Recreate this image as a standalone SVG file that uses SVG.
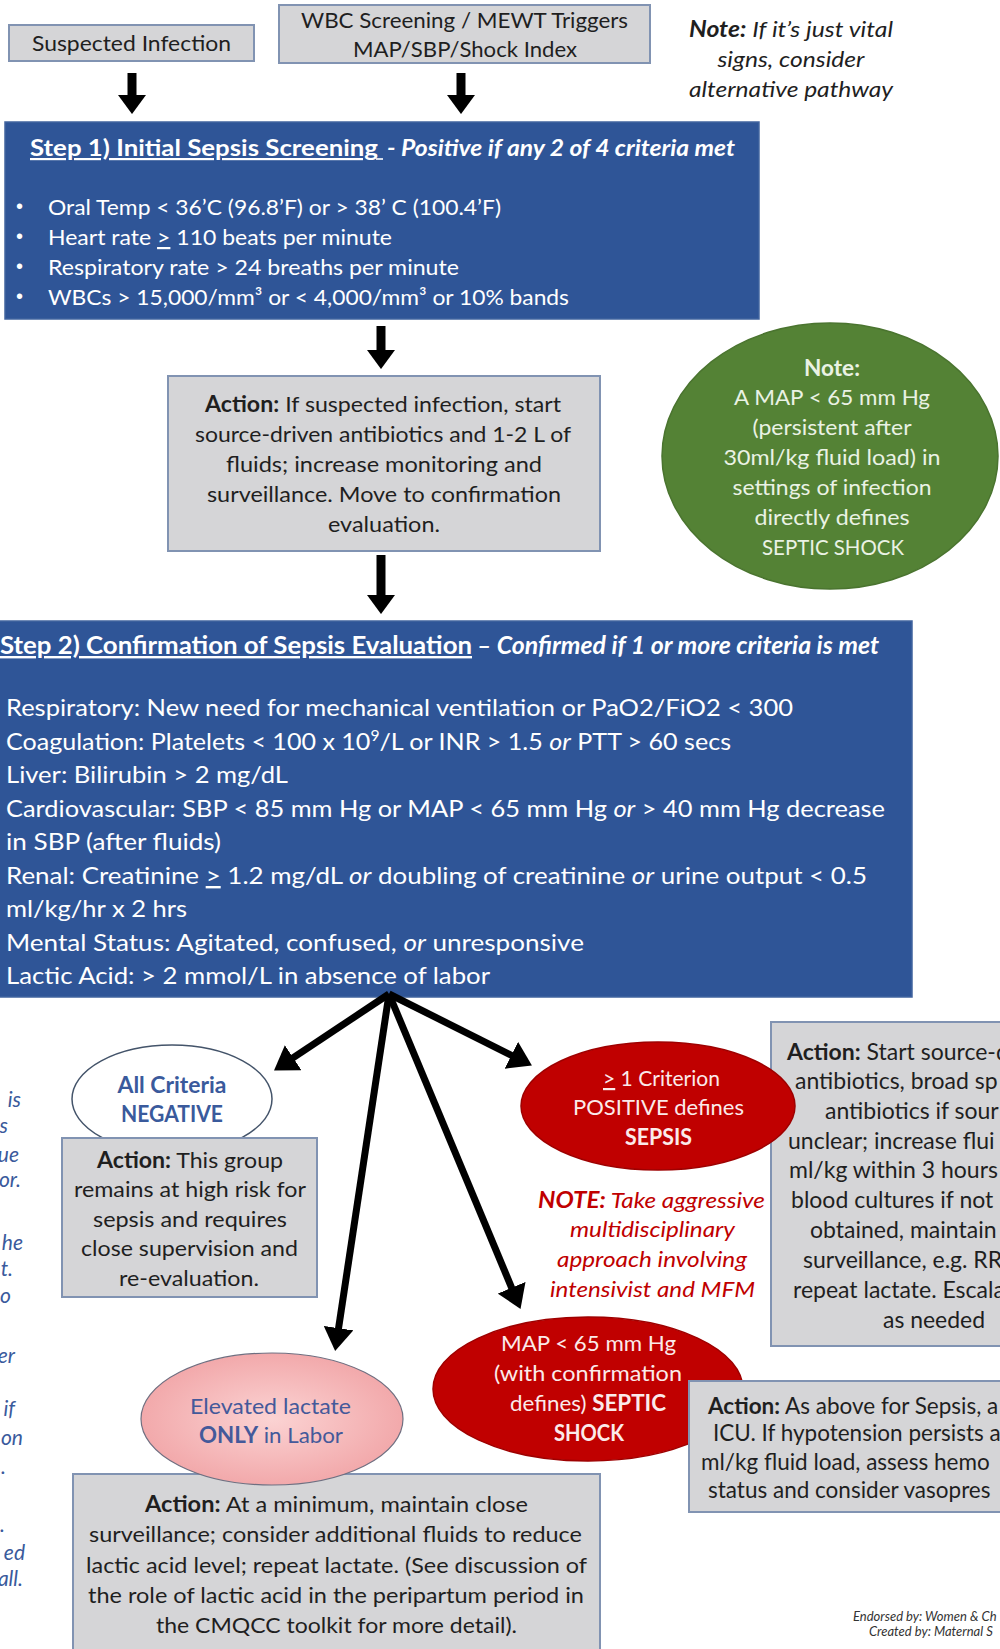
<svg xmlns="http://www.w3.org/2000/svg" width="1000" height="1649" viewBox="0 0 1000 1649">
<defs>
<style>
.box{fill:#d5d5d7;stroke:#8193b2;stroke-width:2}
.blue{fill:#2f5597;stroke:#41649f;stroke-width:1.5}
.t{font-family:Lato,"Liberation Sans",sans-serif;font-size:22px;fill:#1f1f1f}
.w{fill:#ffffff}
.c{text-anchor:middle}
.b{font-weight:bold}
.i{font-style:italic}
.u{text-decoration:underline}
.bul{font-family:"Liberation Sans",sans-serif;font-size:20px;fill:#ffffff}
.shaft{stroke:#000;stroke-width:9;fill:none;marker-end:url(#ah)}
.fan{stroke:#000;stroke-width:7;fill:none;marker-end:url(#ah2)}
.red{fill:#c00000;stroke:#9e0000;stroke-width:1.5}
.frag{font-family:Lato,"Liberation Sans",sans-serif;font-size:21px;font-style:italic;fill:#3a5a9c;text-anchor:end}
.foot{font-family:Lato,"Liberation Sans",sans-serif;font-size:13px;font-style:italic;fill:#333}
</style>
<marker id="ah" viewBox="0 0 10 10" refX="0.5" refY="5" markerUnits="userSpaceOnUse" markerWidth="19" markerHeight="28" preserveAspectRatio="none" orient="auto"><path d="M0,0 L10,5 L0,10 Z" fill="#000"/></marker>
<marker id="ah2" viewBox="0 0 10 10" refX="0.5" refY="5" markerUnits="userSpaceOnUse" markerWidth="23" markerHeight="30" preserveAspectRatio="none" orient="auto"><path d="M0,0 L10,5 L0,10 Z" fill="#000"/></marker>
<radialGradient id="pink" cx="0.5" cy="0.5" r="0.5"><stop offset="0" stop-color="#fbd3d3"/><stop offset="1" stop-color="#f2a9ab"/></radialGradient>
</defs>
<rect width="1000" height="1649" fill="#fff"/>

<g id="suspected-infection">
<rect class="box" x="9" y="25" width="245" height="36"/>
<text class="t c" x="131.5" y="51" textLength="199" lengthAdjust="spacingAndGlyphs">Suspected Infection</text>
</g>
<g id="wbc-screening">
<rect class="box" x="279" y="5" width="371" height="58"/>
<text class="t c" x="464.5" y="28" textLength="327" lengthAdjust="spacingAndGlyphs">WBC Screening / MEWT Triggers</text>
<text class="t c" x="465" y="57" textLength="224" lengthAdjust="spacingAndGlyphs">MAP/SBP/Shock Index</text>
</g>
<g id="note-vitals">
<text class="t c i" x="791" y="37" textLength="204" lengthAdjust="spacingAndGlyphs"><tspan class="b">Note:</tspan> If it’s just vital</text>
<text class="t c i" x="791" y="67" textLength="147" lengthAdjust="spacingAndGlyphs">signs, consider</text>
<text class="t c i" x="791" y="97" textLength="204" lengthAdjust="spacingAndGlyphs">alternative pathway</text>
</g>

<g id="step1">
<rect class="blue" x="5" y="122" width="754" height="197"/>
<text class="t w b u" x="30" y="156" textLength="348" lengthAdjust="spacingAndGlyphs">Step 1) Initial Sepsis Screening</text>
<line x1="376" y1="159" x2="383" y2="159" stroke="#fff" stroke-width="1.6"/>
<text class="t w b i" x="387" y="156" textLength="348" lengthAdjust="spacingAndGlyphs">- Positive if any 2 of 4 criteria met</text>
<text class="bul" x="16" y="213">•</text>
<text class="bul" x="16" y="243">•</text>
<text class="bul" x="16" y="273">•</text>
<text class="bul" x="16" y="303">•</text>
<text class="t w" x="48" y="215" textLength="453" lengthAdjust="spacingAndGlyphs">Oral Temp &lt; 36’C (96.8’F) or &gt; 38’ C (100.4’F)</text>
<text class="t w" x="48" y="245" textLength="344" lengthAdjust="spacingAndGlyphs">Heart rate <tspan class="u">&gt;</tspan> 110 beats per minute</text>
<text class="t w" x="48" y="275" textLength="411" lengthAdjust="spacingAndGlyphs">Respiratory rate &gt; 24 breaths per minute</text>
<text class="t w" x="48" y="305" textLength="521" lengthAdjust="spacingAndGlyphs">WBCs &gt; 15,000/mm³ or &lt; 4,000/mm³ or 10% bands</text>
</g>

<g id="action1">
<rect class="box" x="168" y="376" width="432" height="175"/>
<text class="t c" x="383" y="412" textLength="356" lengthAdjust="spacingAndGlyphs"><tspan class="b">Action:</tspan> If suspected infection, start</text>
<text class="t c" x="383" y="442" textLength="376" lengthAdjust="spacingAndGlyphs">source-driven antibiotics and 1-2 L of</text>
<text class="t c" x="384" y="472" textLength="316" lengthAdjust="spacingAndGlyphs">fluids; increase monitoring and</text>
<text class="t c" x="384" y="502" textLength="354" lengthAdjust="spacingAndGlyphs">surveillance. Move to confirmation</text>
<text class="t c" x="384" y="532" textLength="112" lengthAdjust="spacingAndGlyphs">evaluation.</text>
</g>

<g id="note-map">
<ellipse cx="830" cy="456" rx="168" ry="133" fill="#548235" stroke="#4a742f" stroke-width="1.5"/>
<text class="t c b" x="832" y="376" style="fill:#eaf2e4" textLength="56" lengthAdjust="spacingAndGlyphs">Note:</text>
<text class="t c" x="832" y="405" style="fill:#eaf2e4" textLength="196" lengthAdjust="spacingAndGlyphs">A MAP &lt; 65 mm Hg</text>
<text class="t c" x="832" y="435" style="fill:#eaf2e4" textLength="159" lengthAdjust="spacingAndGlyphs">(persistent after</text>
<text class="t c" x="832" y="465" style="fill:#eaf2e4" textLength="217" lengthAdjust="spacingAndGlyphs">30ml/kg fluid load) in</text>
<text class="t c" x="832" y="495" style="fill:#eaf2e4" textLength="199" lengthAdjust="spacingAndGlyphs">settings of infection</text>
<text class="t c" x="832" y="525" style="fill:#eaf2e4" textLength="155" lengthAdjust="spacingAndGlyphs">directly defines</text>
<text class="t c" x="833" y="555" style="fill:#eaf2e4" textLength="142" lengthAdjust="spacingAndGlyphs">SEPTIC SHOCK</text>
</g>

<g id="step2">
<rect class="blue" x="-2" y="621" width="914" height="376"/>
<text class="t w b u" x="0" y="654" style="font-size:24px" textLength="472" lengthAdjust="spacingAndGlyphs">Step 2) Confirmation of Sepsis Evaluation</text>
<text class="t w b i" x="477" y="654" style="font-size:24px" textLength="402" lengthAdjust="spacingAndGlyphs">– Confirmed if 1 or more criteria is met</text>
<text class="t w" x="6" y="716" style="font-size:24px" textLength="787" lengthAdjust="spacingAndGlyphs">Respiratory: New need for mechanical ventilation or PaO2/FiO2 &lt; 300</text>
<text class="t w" x="6" y="750" style="font-size:24px" textLength="725" lengthAdjust="spacingAndGlyphs">Coagulation: Platelets &lt; 100 x 10<tspan baseline-shift="super" style="font-size:15px">9</tspan>/L or INR &gt; 1.5 <tspan class="i">or</tspan> PTT &gt; 60 secs</text>
<text class="t w" x="6" y="783" style="font-size:24px" textLength="282" lengthAdjust="spacingAndGlyphs">Liver: Bilirubin &gt; 2 mg/dL</text>
<text class="t w" x="6" y="817" style="font-size:24px" textLength="879" lengthAdjust="spacingAndGlyphs">Cardiovascular: SBP &lt; 85 mm Hg or MAP &lt; 65 mm Hg <tspan class="i">or</tspan> &gt; 40 mm Hg decrease</text>
<text class="t w" x="6" y="850" style="font-size:24px" textLength="215" lengthAdjust="spacingAndGlyphs">in SBP (after fluids)</text>
<text class="t w" x="6" y="884" style="font-size:24px" textLength="861" lengthAdjust="spacingAndGlyphs">Renal: Creatinine <tspan class="u">&gt;</tspan> 1.2 mg/dL <tspan class="i">or</tspan> doubling of creatinine <tspan class="i">or</tspan> urine output &lt; 0.5</text>
<text class="t w" x="6" y="917" style="font-size:24px" textLength="181" lengthAdjust="spacingAndGlyphs">ml/kg/hr x 2 hrs</text>
<text class="t w" x="6" y="951" style="font-size:24px" textLength="578" lengthAdjust="spacingAndGlyphs">Mental Status: Agitated, confused, <tspan class="i">or</tspan> unresponsive</text>
<text class="t w" x="6" y="984" style="font-size:24px" textLength="484" lengthAdjust="spacingAndGlyphs">Lactic Acid: &gt; 2 mmol/L in absence of labor</text>
</g>

<g id="connectors">
<line class="shaft" x1="132" y1="73" x2="132" y2="96"/>
<line class="shaft" x1="461" y1="73" x2="461" y2="96"/>
<line class="shaft" x1="381" y1="326" x2="381" y2="351"/>
<line class="shaft" x1="381" y1="555" x2="381" y2="596"/>
<line class="fan" x1="389" y1="994" x2="292.2" y2="1058.4"/>
<line class="fan" x1="389" y1="994" x2="512.4" y2="1055.8"/>
<line class="fan" x1="389" y1="994" x2="338.4" y2="1329.3"/>
<line class="fan" x1="389" y1="994" x2="512.1" y2="1288.8"/>
</g>

<g id="left-notes">
<text class="frag" x="21" y="1107">is</text>
<text class="frag" x="8" y="1133">s</text>
<text class="frag" x="19" y="1162">ue</text>
<text class="frag" x="21" y="1187">or.</text>
<text class="frag" x="23" y="1250">he</text>
<text class="frag" x="13" y="1276">t.</text>
<text class="frag" x="11" y="1303">o</text>
<text class="frag" x="15" y="1363">er</text>
<text class="frag" x="15" y="1416">if</text>
<text class="frag" x="23" y="1445">on</text>
<text class="frag" x="6" y="1474">.</text>
<text class="frag" x="5" y="1532">.</text>
<text class="frag" x="25" y="1560">ed</text>
<text class="frag" x="23" y="1586">all.</text>
</g>

<g id="all-negative">
<ellipse cx="172" cy="1099" rx="100" ry="54" fill="#fff" stroke="#44546a" stroke-width="1.5"/>
<text class="t c b" x="172" y="1093" style="fill:#3a5a9c" textLength="109" lengthAdjust="spacingAndGlyphs">All Criteria</text>
<text class="t c b" x="172" y="1122" style="fill:#3a5a9c" textLength="102" lengthAdjust="spacingAndGlyphs">NEGATIVE</text>
</g>
<g id="action-negative">
<rect class="box" x="62" y="1138" width="255" height="159"/>
<text class="t c" x="190" y="1168" textLength="186" lengthAdjust="spacingAndGlyphs"><tspan class="b">Action:</tspan> This group</text>
<text class="t c" x="190" y="1197" textLength="232" lengthAdjust="spacingAndGlyphs">remains at high risk for</text>
<text class="t c" x="190" y="1227" textLength="194" lengthAdjust="spacingAndGlyphs">sepsis and requires</text>
<text class="t c" x="189.5" y="1256" textLength="217" lengthAdjust="spacingAndGlyphs">close supervision and</text>
<text class="t c" x="189" y="1286" textLength="140" lengthAdjust="spacingAndGlyphs">re-evaluation.</text>
</g>

<g id="action-sepsis">
<rect class="box" x="771" y="1022" width="260" height="324"/>
<text class="t" x="787" y="1060" style="font-size:23px"><tspan class="b">Action:</tspan> Start source-d</text>
<text class="t" x="795" y="1089" style="font-size:23px">antibiotics, broad sp</text>
<text class="t" x="825" y="1119" style="font-size:23px">antibiotics if sour</text>
<text class="t" x="788" y="1149" style="font-size:23px">unclear; increase flui</text>
<text class="t" x="789" y="1178" style="font-size:23px">ml/kg within 3 hours</text>
<text class="t" x="791" y="1208" style="font-size:23px">blood cultures if not</text>
<text class="t" x="810" y="1238" style="font-size:23px">obtained, maintain</text>
<text class="t" x="803" y="1268" style="font-size:23px">surveillance, e.g. RR</text>
<text class="t" x="793" y="1298" style="font-size:23px">repeat lactate. Escala</text>
<text class="t" x="883" y="1328" style="font-size:23px" textLength="102" lengthAdjust="spacingAndGlyphs">as needed</text>
</g>

<g id="sepsis">
<ellipse class="red" cx="658" cy="1106" rx="137" ry="64"/>
<text class="t c" x="661.5" y="1086" style="fill:#fbeaea" textLength="117" lengthAdjust="spacingAndGlyphs"><tspan class="u">&gt;</tspan> 1 Criterion</text>
<text class="t c" x="658.5" y="1115" style="fill:#fbeaea" textLength="171" lengthAdjust="spacingAndGlyphs">POSITIVE defines</text>
<text class="t c b" x="658.5" y="1145" style="fill:#fbeaea" textLength="67" lengthAdjust="spacingAndGlyphs">SEPSIS</text>
</g>

<g id="note-aggressive">
<text class="t c i" x="651.5" y="1208" style="fill:#c00000" textLength="227" lengthAdjust="spacingAndGlyphs"><tspan class="b">NOTE:</tspan> Take aggressive</text>
<text class="t c i" x="652.5" y="1237" style="fill:#c00000" textLength="165" lengthAdjust="spacingAndGlyphs">multidisciplinary</text>
<text class="t c i" x="652" y="1267" style="fill:#c00000" textLength="190" lengthAdjust="spacingAndGlyphs">approach involving</text>
<text class="t c i" x="652.5" y="1297" style="fill:#c00000" textLength="205" lengthAdjust="spacingAndGlyphs">intensivist and MFM</text>
</g>

<g id="septic-shock">
<ellipse class="red" cx="588" cy="1389" rx="155" ry="72"/>
<text class="t c" x="588.5" y="1351" style="fill:#fbeaea" textLength="175" lengthAdjust="spacingAndGlyphs">MAP &lt; 65 mm Hg</text>
<text class="t c" x="588" y="1381" style="fill:#fbeaea" textLength="188" lengthAdjust="spacingAndGlyphs">(with confirmation</text>
<text class="t c" x="588" y="1411" style="fill:#fbeaea" textLength="156" lengthAdjust="spacingAndGlyphs">defines) <tspan class="b">SEPTIC</tspan></text>
<text class="t c b" x="589" y="1441" style="fill:#fbeaea" textLength="70" lengthAdjust="spacingAndGlyphs">SHOCK</text>
</g>

<g id="action-shock">
<rect class="box" x="689" y="1381" width="330" height="131"/>
<text class="t" x="708" y="1414" style="font-size:22.5px"><tspan class="b">Action:</tspan> As above for Sepsis, a</text>
<text class="t" x="713" y="1441" style="font-size:22.5px">ICU. If hypotension persists a</text>
<text class="t" x="701" y="1470" style="font-size:22.5px">ml/kg fluid load, assess hemo</text>
<text class="t" x="708" y="1498" style="font-size:22.5px">status and consider vasopres</text>
</g>

<g id="action-lactate">
<rect class="box" x="73" y="1474" width="527" height="190"/>
<text class="t c" x="336.5" y="1512" textLength="383" lengthAdjust="spacingAndGlyphs"><tspan class="b">Action:</tspan> At a minimum, maintain close</text>
<text class="t c" x="335.5" y="1542" textLength="493" lengthAdjust="spacingAndGlyphs">surveillance; consider additional fluids to reduce</text>
<text class="t c" x="336.5" y="1573" textLength="501" lengthAdjust="spacingAndGlyphs">lactic acid level; repeat lactate. (See discussion of</text>
<text class="t c" x="336" y="1603" textLength="496" lengthAdjust="spacingAndGlyphs">the role of lactic acid in the peripartum period in</text>
<text class="t c" x="336.5" y="1633" textLength="361" lengthAdjust="spacingAndGlyphs">the CMQCC toolkit for more detail).</text>
</g>

<g id="elevated-lactate">
<ellipse cx="272" cy="1419" rx="131" ry="66" fill="url(#pink)" stroke="#6f6f80" stroke-width="1.2"/>
<text class="t c" x="270.5" y="1414" style="fill:#44599a" textLength="161" lengthAdjust="spacingAndGlyphs">Elevated lactate</text>
<text class="t c" x="271" y="1443" style="fill:#44599a" textLength="144" lengthAdjust="spacingAndGlyphs"><tspan class="b">ONLY</tspan> in Labor</text>
</g>

<g id="footer">
<text class="foot" x="853" y="1621">Endorsed by: Women &amp; Ch</text>
<text class="foot" x="869" y="1636">Created by: Maternal S</text>
</g>
</svg>
